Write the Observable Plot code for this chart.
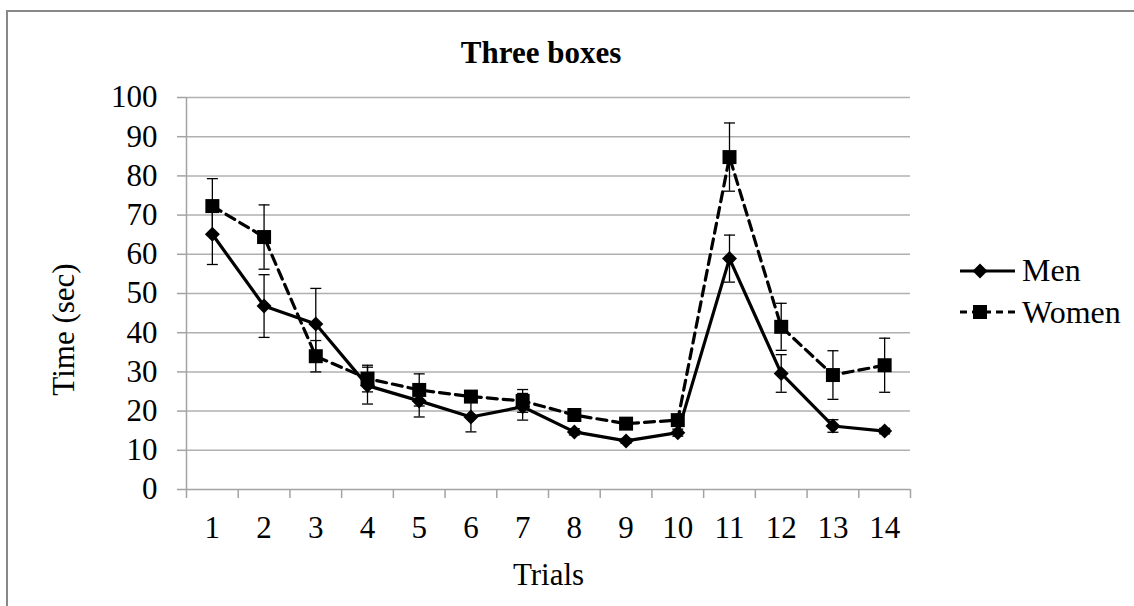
<!DOCTYPE html>
<html>
<head>
<meta charset="utf-8">
<script src="https://cdn.jsdelivr.net/npm/d3@7"></script>
<script src="https://cdn.jsdelivr.net/npm/@observablehq/plot@0.6"></script>
<style>
  html, body { margin: 0; padding: 0; background: #fff; }
  #wrap { position: relative; width: 1134px; height: 606px; overflow: hidden; }
  #overlay { position: absolute; left: 0; top: 0; pointer-events: none; }
  text { font-family: "Liberation Serif", "Times New Roman", serif; }
</style>
</head>
<body>
<div id="wrap"></div>
<script>
// ---- data ----
const trials = [1, 2, 3, 4, 5, 6, 7, 8, 9, 10, 11, 12, 13, 14];
const menValues = [65.1, 46.8, 42.2, 26.5, 22.6, 18.5, 21.1, 14.7, 12.4, 14.5, 58.9, 29.6, 16.2, 14.9];
const menErrors = [7.7, 8.0, 9.1, 4.7, 4.1, 3.8, 3.4, 0.8, 0.6, 0.9, 6.0, 4.8, 1.6, 0.7];
const womenValues = [72.3, 64.4, 34.0, 28.3, 25.4, 23.7, 22.6, 19.0, 16.8, 17.7, 84.8, 41.5, 29.2, 31.7];
const womenErrors = [7.0, 8.2, 4.0, 3.4, 4.1, 1.2, 2.9, 0.8, 0.7, 0.8, 8.7, 6.0, 6.2, 6.9];
const yTicks = [0, 10, 20, 30, 40, 50, 60, 70, 80, 90, 100];
const gridTicks = [10, 20, 30, 40, 50, 60, 70, 80, 90, 100];
const xTickBounds = [0.5, 1.5, 2.5, 3.5, 4.5, 5.5, 6.5, 7.5, 8.5, 9.5, 10.5, 11.5, 12.5, 13.5, 14.5];
const seriesNames = ["Men", "Women"];

const men = trials.map((t, i) => ({trial: t, value: menValues[i], err: menErrors[i]}));
const women = trials.map((t, i) => ({trial: t, value: womenValues[i], err: womenErrors[i]}));

// custom symbols
const diamondSym = {draw(ctx, size) { const r = Math.sqrt(size / Math.PI); ctx.moveTo(0, -r); ctx.lineTo(r, 0); ctx.lineTo(0, r); ctx.lineTo(-r, 0); ctx.closePath(); }};
const squareSym = {draw(ctx, size) { const r = Math.sqrt(size / Math.PI); ctx.rect(-r, -r, 2 * r, 2 * r); }};
const capSym = {draw(ctx, size) { const r = Math.sqrt(size / Math.PI); ctx.moveTo(-r, 0); ctx.lineTo(r, 0); }};

const FONT = "'Liberation Serif', 'Times New Roman', serif";
const axisGray = "#a3a3a3";
const gridGray = "#b0b0b0";

function errorMarks(data) {
  return [
    Plot.ruleX(data, {x: "trial", y1: d => d.value - d.err, y2: d => d.value + d.err, stroke: "black", strokeWidth: 1.3}),
    Plot.dot(data, {x: "trial", y: d => d.value - d.err, symbol: capSym, r: 5.5, fill: "none", stroke: "black", strokeWidth: 1.3}),
    Plot.dot(data, {x: "trial", y: d => d.value + d.err, symbol: capSym, r: 5.5, fill: "none", stroke: "black", strokeWidth: 1.3})
  ];
}

const chart = Plot.plot({
  width: 1134,
  height: 606,
  marginLeft: 186,
  marginRight: 224,
  marginTop: 97,
  marginBottom: 117,
  x: {domain: [0.5, 14.5], axis: null},
  y: {domain: [0, 100], axis: null},
  style: {fontFamily: FONT, fontSize: "31px", color: "black", background: "transparent", overflow: "visible"},
  marks: [
    Plot.ruleY(gridTicks, {stroke: gridGray, strokeWidth: 1.5}),
    Plot.axisY({ticks: yTicks, tickSize: 9, tickPadding: 20, stroke: axisGray, strokeWidth: 1.5, fontSize: 31, label: null, tickFormat: d => d}),
    Plot.axisX({ticks: xTickBounds, tickSize: 9, stroke: axisGray, strokeWidth: 1.5, tickFormat: () => "", label: null}),
    Plot.axisX({ticks: trials, tickSize: 0, tickPadding: 26, fontSize: 31, label: null, tickFormat: d => d}),
    Plot.ruleY([0], {stroke: axisGray, strokeWidth: 1.5}),
    Plot.ruleX([0.5], {stroke: axisGray, strokeWidth: 1.5}),
    Plot.text(["Time (sec)"], {frameAnchor: "left", textAnchor: "middle", lineAnchor: "middle", dx: -122, dy: 36, rotate: -90, fontSize: 31, fill: "black"}),
    Plot.text(["Trials"], {frameAnchor: "bottom", textAnchor: "middle", lineAnchor: "middle", dy: 86, fontSize: 31, fill: "black"}),
    Plot.line(men, {x: "trial", y: "value", stroke: "black", strokeWidth: 3.2}),
    ...errorMarks(men),
    Plot.dot(men, {x: "trial", y: "value", symbol: diamondSym, r: 7.5, fill: "black", stroke: "none"}),
    Plot.line(women, {x: "trial", y: "value", stroke: "black", strokeWidth: 3.2, strokeDasharray: "10,6"}),
    ...errorMarks(women),
    Plot.dot(women, {x: "trial", y: "value", symbol: squareSym, r: 7, fill: "black", stroke: "none"})
  ]
});

const wrap = document.getElementById("wrap");
wrap.appendChild(chart);

// overlay: chart border, title, legend
const ns = "http://www.w3.org/2000/svg";
const ov = document.createElementNS(ns, "svg");
ov.setAttribute("id", "overlay");
ov.setAttribute("width", 1134);
ov.setAttribute("height", 606);
ov.innerHTML = `
  <path d="M7,620 L7,11 L1140,11" fill="none" stroke="#888" stroke-width="2"/>
  <text x="541" y="63" text-anchor="middle" font-size="31" font-weight="bold" fill="black">Three boxes</text>
  <g>
    <line x1="960" y1="271" x2="1015" y2="271" stroke="black" stroke-width="3.2"/>
    <path d="M980,263.5 L987.5,271 L980,278.5 L972.5,271 Z" fill="black"/>
    <text x="1022" y="281" font-size="32" fill="black">${seriesNames[0]}</text>
  </g>
  <g>
    <line x1="960" y1="312" x2="1015" y2="312" stroke="black" stroke-width="3.2" stroke-dasharray="7,5"/>
    <rect x="973" y="305" width="14" height="14" fill="black"/>
    <text x="1022" y="323" font-size="32" fill="black">${seriesNames[1]}</text>
  </g>
`;
wrap.appendChild(ov);
</script>
</body>
</html>
